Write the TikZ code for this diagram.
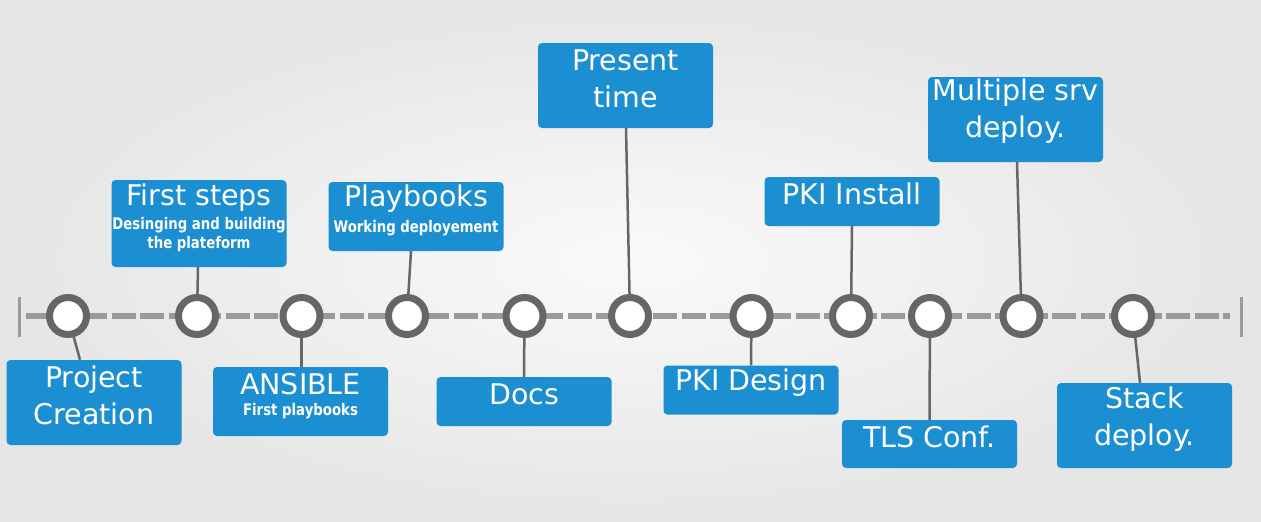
\documentclass[tikz,border=0pt]{standalone}
\usepackage{fontspec}
\setmainfont{DejaVu Sans}
\newfontfamily\subf[FakeStretch=0.83]{DejaVu Sans}
\usetikzlibrary{calc}
\definecolor{boxblue}{HTML}{1B8FD2}
\definecolor{ringgray}{HTML}{666666}
\definecolor{dashgray}{HTML}{9A9A9A}
\tikzset{
  box/.style={draw=none, fill=boxblue, rounded corners=4pt, minimum width=175pt, inner sep=0pt},
  title/.style={text=white, align=center, inner sep=0pt, font=\fontsize{28.5}{37}\selectfont},
  subtitle/.style={text=white, align=center, inner sep=0pt, font=\subf\bfseries\fontsize{16}{18.5}\selectfont},
  stop/.style={circle, draw=ringgray, fill=white, line width=7pt, minimum size=37pt, inner sep=0pt},
  link/.style={draw=ringgray, line width=2.5pt},
  axis/.style={draw=dashgray, line width=6pt, dash pattern=on 24pt off 4.5pt},
  tick/.style={draw=dashgray, line width=3pt},
}
\begin{document}
\begin{tikzpicture}[x=1pt,y=-1pt]
\useasboundingbox (0,0) rectangle (1261,522);
\shade[inner color=white!98!black, outer color=white!90!black] (0,0) rectangle (1261,522);
% axis
\coordinate (L) at (26,316);
\coordinate (R) at (1230,316);
\draw[axis] (L) -- (R);
\coordinate (LT) at (19,297); \coordinate (LB) at (19,337);
\coordinate (RT) at (1241,297); \coordinate (RB) at (1241,337);
\draw[tick] (LT) -- (LB);
\draw[tick] (RT) -- (RB);
% boxes
\node[box, minimum height=85pt] (b1) at (94,402.5) {};
\node[box, minimum height=87pt] (b2) at (199,223.5) {};
\node[box, minimum height=69pt] (b3) at (300.5,401.5) {};
\node[box, minimum height=69pt] (b4) at (416,216.5) {};
\node[box, minimum height=49pt] (b5) at (524,401.5) {};
\node[box, minimum height=85pt] (b6) at (625.5,85.5) {};
\node[box, minimum height=49pt] (b7) at (751,390) {};
\node[box, minimum height=49pt] (b8) at (852,201.5) {};
\node[box, minimum height=48pt] (b9) at (929.5,444) {};
\node[box, minimum height=85pt] (b10) at (1015.5,119.5) {};
\node[box, minimum height=85pt] (b11) at (1144.5,425.5) {};
% texts
\node[title] (x1) at ($(b1)+(0,-7.5)$) {Project\\Creation};
\node[title] (x2) at (199,198) {First steps};
\node[subtitle] (s2) at (199,234.5) {Desinging and building\\the plateform};
\node[title] (x3) at (300.5,384) {ANSIBLE};
\node[subtitle] (s3) at (300.5,411) {First playbooks};
\node[title] (x4) at (416,199) {Playbooks};
\node[subtitle] (s4) at (416,228) {Working deployement};
\node[title] (x5) at ($(b5)+(0,-7.5)$) {Docs};
\node[title] (x6) at ($(b6)+(0,-6.5)$) {Present\\time};
\node[title] (x7) at ($(b7)+(0,-7)$) {PKI Design};
\node[title] (x8) at ($(b8)+(0,-7.5)$) {PKI Install};
\node[title] (x9) at ($(b9)+(0,-7)$) {TLS Conf.};
\node[title] (x10) at ($(b10)+(0,-8)$) {Multiple srv\\deploy.};
\node[title] (x11) at ($(b11)+(0,-6.5)$) {Stack\\deploy.};
% stop positions
\coordinate (p1) at (68,316);
\coordinate (p2) at (197,316);
\coordinate (p3) at (301.5,316);
\coordinate (p4) at (407,316);
\coordinate (p5) at (524.5,316);
\coordinate (p6) at (630,316);
\coordinate (p7) at (751.5,316);
\coordinate (p8) at (851,316);
\coordinate (p9) at (930,316);
\coordinate (p10) at (1021.5,316);
\coordinate (p11) at (1133,316);
% links
\draw[link] ($(b1.north)+(-14,0)$) -- (p1);
\draw[link] ($(b2.south)+(-1,0)$) -- (p2);
\draw[link] ($(b3.north)+(1,0)$) -- (p3);
\draw[link] ($(b4.south)+(-5,0)$) -- (p4);
\draw[link] (b5.north) -- (p5);
\draw[link] ($(b6.south)+(0.5,0)$) -- (p6);
\draw[link] (b7.north) -- (p7);
\draw[link] (b8.south) -- (p8);
\draw[link] (b9.north) -- (p9);
\draw[link] ($(b10.south)+(1.5,0)$) -- (p10);
\draw[link] ($(b11.north)+(-4.5,0)$) -- (p11);
% circles
\foreach \i in {1,...,11} { \node[stop] (t\i) at (p\i) {}; }
\end{tikzpicture}
\end{document}
